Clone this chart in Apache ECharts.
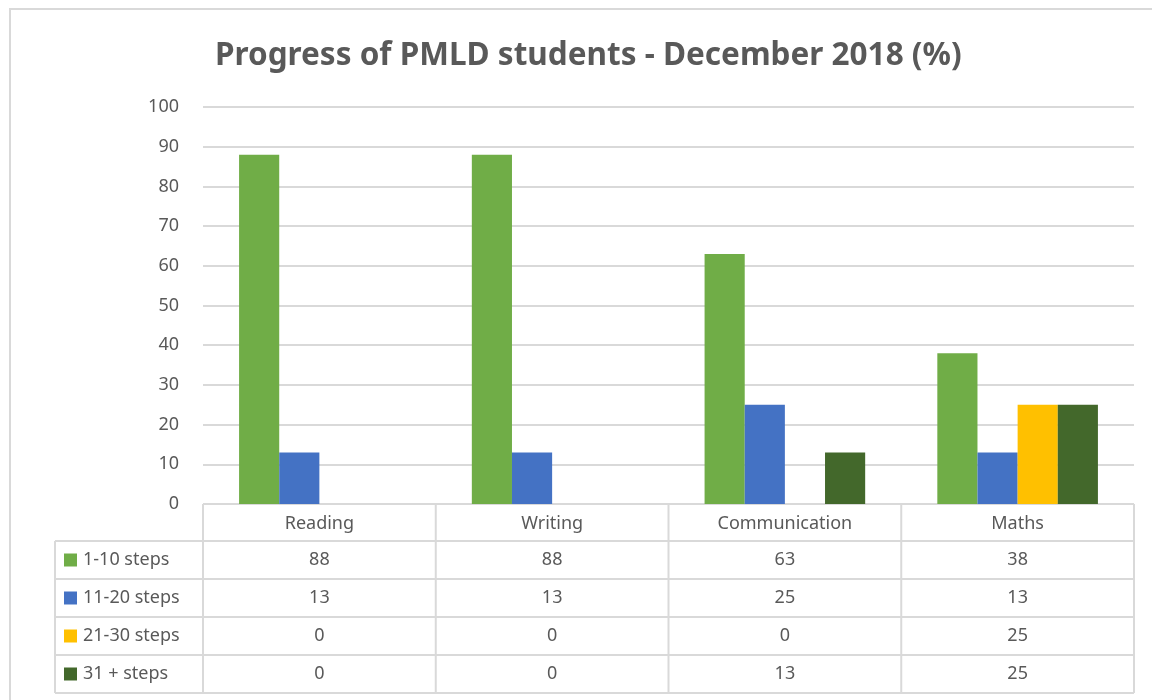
<!DOCTYPE html>
<html>
<head>
<meta charset="utf-8">
<script src="https://cdn.jsdelivr.net/npm/echarts@6/dist/echarts.min.js"></script>
<style>
  html, body { margin: 0; padding: 0; background: #fff; }
  #chart { width: 1152px; height: 700px; }
</style>
</head>
<body>
<div id="chart"></div>
<script>
// data
const categories = ['Reading', 'Writing', 'Communication', 'Maths']
const seriesNames = ['1-10 steps', '11-20 steps', '21-30 steps', '31 + steps']
const steps1to10 = [88, 88, 63, 38]
const steps11to20 = [13, 13, 25, 13]
const steps21to30 = [0, 0, 0, 25]
const steps31plus = [0, 0, 13, 25]
const yTicks = [0, 10, 20, 30, 40, 50, 60, 70, 80, 90, 100]

const colors = ['#70AD47', '#4472C4', '#FFC000', '#43682B']
const allData = [steps1to10, steps11to20, steps21to30, steps31plus]

const textColor = '#595959'
const lineColor = '#d9d9d9'
const font = 'Noto Sans'

// plot area
const gLeft = 203, gRight = 1134, gTop = 107, gBottom = 504
const colW = (gRight - gLeft) / categories.length
const headH = 37, rowH = 38
const labelLeft = 55

const myChart = echarts.init(document.getElementById('chart'))

// data table below the plot, built from the arrays
const graphics = []
const line = (x1, y1, x2, y2) => graphics.push({
  type: 'line', shape: { x1, y1, x2, y2 },
  style: { stroke: lineColor, lineWidth: 2 }, silent: true
})
const text = (x, y, t, align) => graphics.push({
  type: 'text', x, y,
  style: { text: t, fill: textColor, font: '18px "' + font + '"', textAlign: align, textVerticalAlign: 'middle' },
  silent: true
})

const tableBottom = gBottom + headH + rowH * seriesNames.length
// horizontal lines
line(gLeft, gBottom, gRight, gBottom)
for (let r = 0; r <= seriesNames.length; r++) {
  const y = gBottom + headH + rowH * r
  line(labelLeft, y, gRight, y)
}
// vertical lines
line(labelLeft, gBottom + headH, labelLeft, tableBottom)
for (let c = 0; c <= categories.length; c++) {
  const x = gLeft + colW * c
  line(x, gBottom, x, tableBottom)
}
// header
categories.forEach((cat, c) => text(gLeft + colW * (c + 0.5), gBottom + headH / 2 + 1, cat, 'center'))
// rows
seriesNames.forEach((name, r) => {
  const yc = gBottom + headH + rowH * (r + 0.5)
  graphics.push({
    type: 'rect', shape: { x: labelLeft + 9, y: yc - 6.5, width: 13, height: 13 },
    style: { fill: colors[r] }, silent: true
  })
  text(labelLeft + 28, yc, name, 'left')
  allData[r].forEach((v, c) => text(gLeft + colW * (c + 0.5), yc, String(v), 'center'))
})
// outer chart border
graphics.push({
  type: 'rect', shape: { x: 10, y: 9, width: 1160, height: 720 },
  style: { fill: 'none', stroke: lineColor, lineWidth: 2 }, silent: true
})

myChart.setOption({
  backgroundColor: '#fff',
  animation: false,
  textStyle: { fontFamily: font },
  title: {
    text: 'Progress of PMLD students - December 2018 (%)',
    left: 210,
    top: 35,
    textStyle: { color: textColor, fontSize: 31.5, fontWeight: 'bold', fontFamily: font }
  },
  grid: { left: gLeft, right: 1152 - gRight, top: gTop, height: gBottom - gTop },
  xAxis: {
    type: 'category',
    data: categories,
    axisLine: { show: false },
    axisTick: { show: false },
    axisLabel: { show: false }
  },
  yAxis: {
    type: 'value',
    min: yTicks[0],
    max: yTicks[yTicks.length - 1],
    interval: yTicks[1] - yTicks[0],
    axisLabel: { color: textColor, fontSize: 18, margin: 24 },
    splitLine: { lineStyle: { color: lineColor, width: 2 } }
  },
  series: seriesNames.map((name, i) => ({
    name,
    type: 'bar',
    data: allData[i],
    barGap: '0%',
    barCategoryGap: '31%',
    itemStyle: { color: colors[i] }
  })),
  graphic: graphics
})
</script>
</body>
</html>
